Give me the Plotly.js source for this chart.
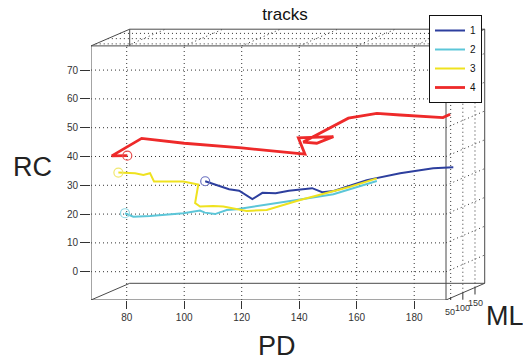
<!DOCTYPE html>
<html>
<head>
<meta charset="utf-8">
<script src="https://cdn.plot.ly/plotly-3.0.1.min.js"></script>
<style>html,body{margin:0;padding:0;background:#fff}#plot{width:523px;height:362px}</style>
</head>
<body>
<div id="plot"></div>
<script>
// ---- data (projected PD / RC values) ----
const trackNames = ['1', '2', '3', '4'];
const trackColors = ['#2d3f9e', '#5cc6d8', '#efe21f', '#ee2a2a'];
const circleColors = ['#6a70c0', '#8fd8e4', '#f1e870', '#e85050'];

const t1PD = [107.3, 115.6, 119.1, 123.7, 127.2, 131.8, 136.4, 141.1, 144.5, 148.0, 152.0, 163.5, 175.1, 186.6, 193.6];
const t1RC = [31.4, 28.6, 28.1, 25.2, 27.4, 27.2, 28.1, 28.6, 29.0, 27.6, 28.0, 31.8, 34.2, 35.9, 36.3];

const t2PD = [79.4, 82.3, 88.1, 99.7, 105.5, 107.2, 110.7, 114.8, 118.3, 128.7, 140.3, 151.9, 158.8, 167.0];
const t2RC = [20.3, 19.1, 19.3, 20.3, 21.2, 20.5, 20.0, 21.4, 21.7, 23.2, 25.1, 26.9, 29.0, 31.5];

const t3PD = [77.1, 82.9, 85.8, 88.1, 89.5, 99.7, 104.9, 103.8, 105.5, 110.1, 113.6, 118.3, 121.7, 128.7, 140.3, 157.7, 167.0];
const t3RC = [34.4, 34.2, 33.6, 34.2, 31.3, 31.3, 30.3, 23.8, 22.6, 22.8, 22.6, 21.7, 21.1, 21.4, 24.9, 29.5, 32.4];

const t4PD = [80.2, 74.8, 85.2, 100.0, 120.0, 142.0, 139.7, 151.9, 146.1, 141.4, 157.1, 167.0, 175.1, 186.6, 190.0, 192.5];
const t4RC = [40.3, 40.2, 46.3, 44.6, 43.0, 40.8, 46.5, 46.9, 44.6, 45.0, 53.3, 55.0, 54.4, 53.6, 53.5, 54.7];

const pdTicks = [80, 100, 120, 140, 160, 180];
const rcTicks = [0, 10, 20, 30, 40, 50, 60, 70];
const mlTicks = [50, 100, 150];

// ---- geometry of the projected 3-D box ----
const pxPD = 2.875, pxRC = 2.88;           // pixels per unit
const pdMin = 67.58, pdMax = 191.06;       // front face extent
const rcMin = -9.83, rcMax = 78.4;
const mlMin = 30.7, mlMax = 190;
const depthX = 38.7 / pxPD, depthY = 16.7 / pxRC;   // offset of back face
const kx = depthX / (mlMax - mlMin), ky = depthY / (mlMax - mlMin);
const M = {l: 91, r: 35, t: 27, b: 62};
const W = 523, H = 362;
const PW = W - M.l - M.r, PH = H - M.t - M.b;
const xRange = [pdMin, pdMin + PW / pxPD];
const yRange = [rcMin, rcMin + PH / pxRC];

function proj(pd, rc, ml) { return [pd + kx * (ml - mlMin), rc + ky * (ml - mlMin)]; }
function px2paper(x, y) { return [(x - M.l) / PW, (H - M.b - y) / PH]; }

const shapes = [];
function seg(a, b, style) {
  shapes.push(Object.assign({type: 'line', xref: 'x', yref: 'y', x0: a[0], y0: a[1], x1: b[0], y1: b[1], layer: 'below'}, style));
}
const solid = {line: {color: '#4a4a4a', width: 1}};
const dotted = {line: {color: '#333', width: 1, dash: '1px,3px'}};

// grid: front face
pdTicks.forEach(v => seg(proj(v, rcMin, mlMin), proj(v, rcMax, mlMin), dotted));
rcTicks.forEach(v => seg(proj(pdMin, v, mlMin), proj(pdMax, v, mlMin), dotted));
// grid: top face
pdTicks.forEach(v => seg(proj(v, rcMax, mlMin), proj(v, rcMax, mlMax), dotted));
mlTicks.forEach(v => seg(proj(pdMin, rcMax, v), proj(pdMax, rcMax, v), dotted));
// grid: right side wall
rcTicks.forEach(v => seg(proj(pdMax, v, mlMin), proj(pdMax, v, mlMax), dotted));
mlTicks.forEach(v => seg(proj(pdMax, rcMin, v), proj(pdMax, rcMax, v), dotted));

// box edges
seg(proj(pdMin, rcMin, mlMin), proj(pdMax, rcMin, mlMin), solid);
seg(proj(pdMin, rcMax, mlMin), proj(pdMax, rcMax, mlMin), solid);
seg(proj(pdMin, rcMin, mlMin), proj(pdMin, rcMax, mlMin), solid);
seg(proj(pdMax, rcMin, mlMin), proj(pdMax, rcMax, mlMin), solid);
seg(proj(pdMin, rcMax, mlMax), proj(pdMax, rcMax, mlMax), solid);
seg(proj(pdMax, rcMin, mlMax), proj(pdMax, rcMax, mlMax), solid);
seg(proj(pdMin, rcMin, mlMax), proj(pdMax, rcMin, mlMax), solid);
seg(proj(pdMin, rcMax, mlMin), proj(pdMin, rcMax, mlMax), solid);
seg(proj(pdMin, rcMin, mlMin), proj(pdMin, rcMin, mlMax), solid);
seg(proj(pdMax, rcMin, mlMin), proj(pdMax, rcMin, mlMax), solid);
seg(proj(pdMax, rcMax, mlMin), proj(pdMax, rcMax, mlMax), solid);
seg(proj(pdMin, rcMax, mlMax), [proj(pdMin, rcMax, mlMax)[0], rcMax], solid);

// ML ticks + labels
const annotations = [];
const tickFont = {family: 'Liberation Sans, Arial, sans-serif', size: 10, color: '#333'};
const mlFont = {family: 'Liberation Sans, Arial, sans-serif', size: 9, color: '#333'};
mlTicks.forEach((v, i) => {
  const p = proj(pdMax, rcMin, v);
  shapes.push({type: 'line', xref: 'x', yref: 'y', x0: p[0], x1: p[0], y0: p[1], y1: p[1] - 7 / pxRC,
               line: {color: '#333', width: 1}});
  annotations.push({xref: 'x', yref: 'y', x: p[0], y: p[1], yshift: -14 - i, xshift: i - 1, xanchor: 'center', yanchor: 'middle',
                    text: String(v), showarrow: false, font: mlFont});
});

// axis titles
const titleFont = {family: 'Liberation Sans, Arial, sans-serif', size: 27, color: '#222'};
[['RC', 32, 167], ['PD', 277, 346], ['ML', 505, 316]].forEach(([t, x, y]) => {
  const p = px2paper(x, y);
  annotations.push({xref: 'paper', yref: 'paper', x: p[0], y: p[1], xanchor: 'center', yanchor: 'middle',
                    text: t, showarrow: false, font: titleFont});
});

// ---- traces ----
const allPD = [t1PD, t2PD, t3PD, t4PD];
const allRC = [t1RC, t2RC, t3RC, t4RC];
const traces = [];
allPD.forEach((pd, i) => {
  traces.push({type: 'scatter', mode: 'lines', x: pd, y: allRC[i], name: trackNames[i],
               line: {color: trackColors[i], width: i === 3 ? 2.8 : 2}, hoverinfo: 'skip'});
});
allPD.forEach((pd, i) => {
  traces.push({type: 'scatter', mode: 'markers', x: [pd[0]], y: [allRC[i][0]], showlegend: false,
               marker: {symbol: 'circle-open', size: 9, color: circleColors[i], line: {width: 1.2, color: circleColors[i]}},
               hoverinfo: 'skip'});
});

const lg = px2paper(482, 15);
const layout = {
  width: W, height: H,
  margin: M,
  paper_bgcolor: '#fff', plot_bgcolor: 'rgba(0,0,0,0)',
  title: {text: 'tracks', x: 285 / W, xanchor: 'center', y: 1 - 14 / H, yanchor: 'middle',
          font: {family: 'Liberation Sans, Arial, sans-serif', size: 17, color: '#111'}},
  xaxis: {range: xRange, tickvals: pdTicks, ticktext: pdTicks.map(String), ticks: 'outside', ticklen: 8,
          tickcolor: '#333', tickwidth: 1, showgrid: false, zeroline: false, showline: false, tickfont: tickFont,
          fixedrange: true},
  yaxis: {range: yRange, tickvals: rcTicks, ticktext: rcTicks.map(String), ticks: 'outside', ticklen: 10,
          tickcolor: '#333', tickwidth: 1, showgrid: false, zeroline: false, showline: false, tickfont: tickFont,
          fixedrange: true},
  showlegend: true,
  legend: {x: lg[0], xanchor: 'right', y: lg[1], yanchor: 'top',
           bgcolor: '#fff', bordercolor: '#111', borderwidth: 1,
           font: {family: 'Liberation Sans, Arial, sans-serif', size: 10, color: '#111'},
           itemwidth: 30, tracegroupgap: 0},
  shapes: shapes,
  annotations: annotations
};

Plotly.newPlot('plot', traces, layout, {staticPlot: true, displayModeBar: false});
</script>
</body>
</html>
